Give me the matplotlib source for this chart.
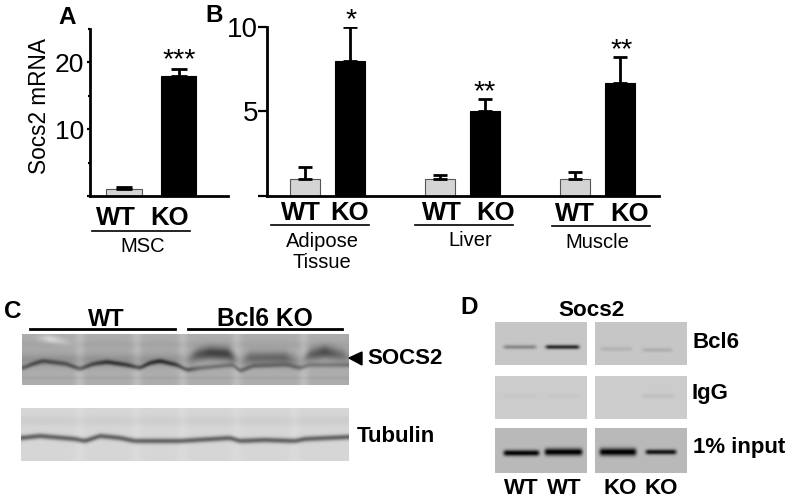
import numpy as np
import matplotlib
matplotlib.use("Agg")
import matplotlib.pyplot as plt
from matplotlib.patches import Polygon

plt.rcParams['font.family'] = ['Liberation Sans', 'DejaVu Sans']
W, H = 790, 501

# ---- Panel A data
a_groups = ['WT', 'KO']
a_values = [1.0, 18.0]
a_errors = [0.3, 1.0]
a_stars = ['', '***']

# ---- Panel B data
b_tissues = ['Adipose\nTissue', 'Liver', 'Muscle']
b_wt = [1.0, 1.0, 1.0]
b_ko = [8.0, 5.0, 6.7]
b_wt_err = [0.7, 0.2, 0.4]
b_ko_err = [2.0, 0.7, 1.5]

GREY = '#d4d4d4'
EDGE = '#555555'

fig = plt.figure(figsize=(W / 100, H / 100), dpi=100, facecolor='white')


def px_axes(l, r, top, bottom, **kw):
    return fig.add_axes([l / W, 1 - bottom / H, (r - l) / W, (bottom - top) / H], **kw)


def style(ax):
    for s in ['top', 'right']:
        ax.spines[s].set_visible(False)
    for s in ['left', 'bottom']:
        ax.spines[s].set_linewidth(2)
    ax.patch.set_alpha(0)
    ax.set_xticks([])


# ---- Panel A
axa = px_axes(90, 228, 29, 196)
style(axa)
axa.bar([0, 1], a_values, width=0.66, color=[GREY, 'black'], edgecolor=[EDGE, 'black'], linewidth=0.8)
axa.errorbar([0, 1], a_values, yerr=[[0, 0], a_errors], fmt='none', ecolor='black', elinewidth=2, capsize=6, capthick=2)
axa.set_xlim(-0.624, 1.908)
axa.set_ylim(0, 25)
axa.set_yticks([0, 10, 20])
axa.set_yticklabels(['', '10', '20'], fontsize=19)
axa.set_yticks([5, 15, 25], minor=True)
axa.tick_params(axis='y', which='major', length=2.5, width=1.6, pad=1.5)
axa.tick_params(axis='y', which='minor', length=1.5, width=1.6)

# ---- Panel B
axb = px_axes(267, 659, 27, 195.5)
style(axb)
pos = [0, 3, 6]
axb.bar(pos, b_wt, width=0.67, color=GREY, edgecolor=EDGE, linewidth=0.8)
axb.bar([p + 1 for p in pos], b_ko, width=0.67, color='black', edgecolor='black', linewidth=0.8)
axb.errorbar(pos, b_wt, yerr=[[0] * 3, b_wt_err], fmt='none', ecolor='black', elinewidth=2, capsize=5, capthick=2)
axb.errorbar([p + 1 for p in pos], b_ko, yerr=[[0] * 3, b_ko_err], fmt='none', ecolor='black', elinewidth=2, capsize=5, capthick=2)
axb.set_xlim(-0.844, 7.867)
axb.set_ylim(0, 10)
axb.set_yticks([0, 5, 10])
axb.set_yticklabels(['', '5', '10'], fontsize=20)
axb.tick_params(axis='y', length=6.5, width=1.6, pad=0)

# ---- Overlay in pixel coordinates (labels and blots)
ov = fig.add_axes([0, 0, 1, 1], zorder=-1)
ov.patch.set_alpha(0)
ov.axis('off')
tx = fig.add_axes([0, 0, 1, 1], zorder=5)
tx.patch.set_alpha(0)
tx.axis('off')
tx.set_xlim(0, W)
tx.set_ylim(H, 0)


def smooth(v, n=9):
    k = np.hanning(n + 2)[1:-1]
    k = k / k.sum()
    p = np.pad(v, n, mode='edge')
    return np.convolve(p, k, mode='same')[n:-n]


def blot(x0, x1, y0, y1, base, bands, lanes=(), lane_gain=10, lane_w=5.0, soften=9):
    xs = np.arange(x0, x1) + 0.5
    ys = np.arange(y0, y1) + 0.5
    X, Y = np.meshgrid(xs, ys)
    img = np.full(X.shape, float(base))
    for lx in lanes:
        img += lane_gain * np.exp(-((X - lx) / lane_w) ** 2)
    for b in bands:
        cy = smooth(np.interp(xs, b['x'], b['y']), soften)
        dk = smooth(np.interp(xs, b['x'], b['d']), soften)
        img -= dk * np.exp(-((Y - cy) / b['s']) ** 2)
    img = np.clip(img, 0, 255)
    ov.imshow(img, extent=(x0, x1, y1, y0), cmap='gray', vmin=0, vmax=255,
              interpolation='bilinear', aspect='auto', zorder=1)


def flat(x0, x1, y, d, s, soft=4):
    return {'x': [x0 - soft, x0, x1, x1 + soft], 'y': [y] * 4, 'd': [0, d, d, 0], 's': s}


# Panel C blots
socs_lower_x = [23, 33, 43, 66, 80, 93, 107, 127, 140, 150, 160, 177, 187, 200, 233, 240, 253, 287, 300, 310, 349]
socs_lower_y = [368, 364, 361, 364, 369, 364, 362, 365, 368, 363, 361, 365, 370, 368, 365, 371, 366, 365, 368, 365, 365]
socs_lower_d = [65, 75, 70, 70, 80, 80, 95, 95, 90, 95, 100, 90, 80, 55, 50, 65, 55, 45, 55, 45, 45]
blot(22, 349, 334, 385, 172,
     [{'x': socs_lower_x, 'y': socs_lower_y, 'd': socs_lower_d, 's': 2.6},
      {'x': [188, 197, 210, 228, 240, 250, 285, 300, 310, 325, 345, 349],
       'y': [360, 355, 353, 354, 362, 358, 358, 362, 355, 352, 356, 358],
       'd': [25, 80, 105, 105, 15, 65, 70, 15, 70, 95, 50, 20], 's': 6.5},
      {'x': [22, 60, 79, 349], 'y': [378, 378, 378, 378], 'd': [8, 8, 8, 8], 's': 1.5},
      {'x': [35, 50, 78], 'y': [338, 339, 345], 'd': [0, -45, 0], 's': 4.0},
      {'x': [22, 349], 'y': [345, 345], 'd': [8, 8], 's': 4.0}],
     lanes=(80, 137, 183, 237, 304), lane_gain=16)
blot(21, 349, 408, 461, 214,
     [{'x': [21, 40, 75, 85, 100, 120, 135, 180, 230, 240, 265, 295, 305, 349],
       'y': [438, 436, 439, 441, 436, 438, 441, 441, 438, 441, 440, 441, 439, 437],
       'd': [110] * 14, 's': 2.8},
      {'x': [21, 349], 'y': [421, 421], 'd': [8, 8], 's': 5.0}],
     lanes=(80, 137, 183, 237, 295), lane_gain=5)

# Panel D blots
blot(495, 587, 322, 365, 198, [flat(506, 534, 347, 60, 2.2), flat(548, 577, 347, 150, 2.2)], soften=5)
blot(595, 687, 322, 365, 198, [flat(603, 630, 349, 18, 2.2), flat(645, 670, 350, 22, 2.2)], soften=5)
blot(495, 587, 376, 419, 204, [flat(507, 534, 396, 6, 2.2), flat(550, 577, 396, 6, 2.2)], soften=5)
blot(595, 687, 376, 419, 204, [flat(645, 672, 396, 12, 2.2)], soften=5)
blot(495, 587, 428, 473, 186, [flat(506, 537, 453, 180, 3.0), flat(547, 580, 452, 185, 3.6)], soften=5)
blot(595, 687, 428, 473, 186, [flat(602, 634, 452, 185, 3.8), flat(648, 674, 452, 165, 2.6)], soften=5)

ov.set_xlim(0, W)
ov.set_ylim(H, 0)


def t(x, y, s, size, weight='normal', **kw):
    tx.text(x, y, s, fontsize=size, fontweight=weight, ha=kw.pop('ha', 'center'), va=kw.pop('va', 'center'),
            color='black', **kw)


# Panel letters
t(67, 17, 'A', 17.5, 'bold')
t(214, 15, 'B', 17.5, 'bold')
t(13, 311, 'C', 17.5, 'bold')
t(469, 308, 'D', 17.5, 'bold')
t(40, 105.5, 'Socs2 mRNA', 16.3, rotation=90)

# Panel A labels
for x, lab in zip([116, 170], a_groups):
    t(x, 218, lab, 18.5, 'bold')
t(179, 60, a_stars[1], 20.5)
t(143, 246, 'MSC', 14.5)
tx.plot([92, 190], [231, 231], color='black', lw=1.2)

# Panel B labels
for (xw, xk, y) in [(301, 350, 213), (442, 496, 213), (575, 630, 214)]:
    t(xw, y, 'WT', 18.5, 'bold')
    t(xk, y, 'KO', 18.5, 'bold')
for x0, x1, y in [(271, 369, 224.5), (415, 513, 225), (552, 650, 226)]:
    tx.plot([x0, x1], [y, y], color='black', lw=1.2)
t(322, 252, b_tissues[0], 14.5, linespacing=1.2)
t(470, 241, b_tissues[1], 14.5)
t(597, 242, b_tissues[2], 14.5)
t(351, 20, '*', 20.5)
t(485, 92, '**', 20.5)
t(621.5, 50, '**', 20.5)

# Panel C labels
t(106, 319, 'WT', 17, 'bold')
t(265, 319, 'Bcl6 KO', 17.7, 'bold')
tx.plot([30, 175], [329, 329], color='black', lw=2)
tx.plot([188, 342], [329, 329], color='black', lw=2)
tx.add_patch(Polygon([(349, 358), (362, 352), (362, 365)], closed=True, color='black'))
t(405.5, 359, 'SOCS2', 16, 'bold')
t(396, 437, 'Tubulin', 16, 'bold')

# Panel D labels
t(591, 310, 'Socs2', 16.2, 'bold')
t(716, 343, 'Bcl6', 16, 'bold')
t(710, 393, 'IgG', 16, 'bold')
t(739, 447, '1% input', 16, 'bold')
for x, lab in zip([521, 564, 620, 661], ['WT', 'WT', 'KO', 'KO']):
    t(x, 488, lab, 16, 'bold')

fig.savefig('out.png', dpi=100, facecolor='white')
